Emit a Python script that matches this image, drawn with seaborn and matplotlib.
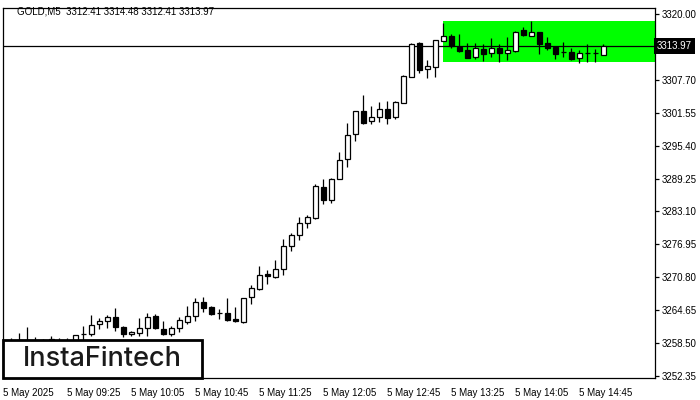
import matplotlib
matplotlib.use("Agg")
import matplotlib.pyplot as plt
import matplotlib.transforms as mtransforms
from matplotlib.patches import Rectangle
import pandas as pd
import seaborn as sns

# ── Data (GOLD M5, 5 May 2025) ───────────────────────────────────────────────
opens = [3258.50, 3258.60, 3259.03, 3259.03, 3258.90, 3258.84, 3259.21, 3258.84, 3258.80, 3258.84,
         3260.16, 3260.16, 3262.03, 3262.59, 3263.35, 3261.49, 3260.16, 3260.34, 3261.28, 3263.53,
         3261.09, 3260.16, 3261.28, 3262.41, 3263.53, 3266.16, 3265.22, 3264.10, 3264.10, 3262.97,
         3262.41, 3267.10, 3268.60, 3271.41, 3270.85, 3272.35, 3276.66, 3278.73, 3280.98, 3281.92,
         3287.73, 3285.29, 3289.23, 3292.99, 3297.49, 3301.80, 3299.93, 3300.68, 3302.18, 3300.68,
         3303.30, 3308.18, 3314.56, 3309.68, 3310.06, 3314.93, 3315.87, 3313.81, 3313.25, 3311.93,
         3313.43, 3312.68, 3313.62, 3312.68, 3313.06, 3317.00, 3315.87, 3316.62, 3314.56, 3313.81,
         3312.87, 3312.87, 3311.75, 3312.68, 3312.68, 3312.41]
highs = [3259.00, 3259.40, 3260.34, 3261.49, 3259.60, 3259.21, 3259.78, 3259.40, 3259.40, 3259.97,
         3261.65, 3263.72, 3263.16, 3263.72, 3265.03, 3261.65, 3260.72, 3263.16, 3264.10, 3263.91,
         3262.59, 3261.65, 3263.35, 3265.41, 3266.91, 3267.10, 3265.41, 3264.85, 3266.91, 3265.22,
         3266.95, 3269.35, 3272.91, 3272.16, 3274.04, 3277.98, 3279.10, 3282.10, 3282.48, 3288.30,
         3289.23, 3289.42, 3294.30, 3299.55, 3301.85, 3304.80, 3302.74, 3303.49, 3303.68, 3303.68,
         3308.56, 3314.56, 3314.75, 3311.37, 3315.15, 3318.31, 3316.25, 3316.25, 3314.56, 3314.56,
         3314.37, 3315.50, 3314.37, 3315.69, 3316.81, 3317.56, 3318.69, 3316.65, 3315.69, 3313.85,
         3314.75, 3313.62, 3313.25, 3314.37, 3313.43, 3314.48]
lows = [3257.60, 3257.80, 3257.90, 3257.80, 3258.00, 3258.30, 3258.20, 3258.30, 3258.20, 3258.50,
        3258.84, 3259.78, 3261.09, 3261.28, 3260.72, 3259.60, 3259.78, 3259.78, 3259.78, 3261.09,
        3260.00, 3259.78, 3260.53, 3262.03, 3262.59, 3264.28, 3263.72, 3262.97, 3262.70, 3262.41,
        3262.20, 3265.78, 3268.41, 3269.54, 3270.66, 3271.22, 3275.72, 3277.79, 3280.04, 3281.73,
        3284.54, 3284.73, 3289.20, 3291.49, 3296.36, 3299.36, 3299.36, 3299.74, 3299.36, 3300.30,
        3303.30, 3308.18, 3308.93, 3307.99, 3308.18, 3314.90, 3313.62, 3312.87, 3311.70, 3311.56,
        3311.18, 3311.93, 3311.00, 3311.37, 3312.87, 3315.87, 3315.85, 3312.50, 3313.25, 3311.56,
        3311.93, 3311.37, 3310.81, 3311.00, 3311.00, 3312.41]
closes = [3258.30, 3258.90, 3258.65, 3258.75, 3258.80, 3259.03, 3258.84, 3258.90, 3258.84, 3259.97,
          3260.20, 3261.84, 3262.59, 3263.35, 3261.49, 3260.16, 3260.53, 3261.28, 3263.35, 3261.28,
          3260.16, 3261.28, 3262.78, 3263.53, 3266.16, 3265.03, 3263.91, 3264.05, 3262.78, 3262.59,
          3266.91, 3268.79, 3271.22, 3271.04, 3272.35, 3276.66, 3278.73, 3280.98, 3282.10, 3287.92,
          3285.29, 3289.23, 3292.80, 3297.30, 3301.80, 3299.55, 3300.68, 3302.18, 3300.49, 3303.49,
          3308.37, 3314.37, 3309.49, 3310.24, 3315.12, 3315.87, 3314.00, 3313.06, 3311.75, 3313.62,
          3312.50, 3313.62, 3312.68, 3313.25, 3316.62, 3316.06, 3316.62, 3314.37, 3313.62, 3312.50,
          3312.85, 3311.56, 3312.68, 3312.70, 3312.66, 3313.97]

x_tick_pos = [0, 8, 16, 24, 32, 40, 48, 56, 64, 72]
x_tick_labels = ["5 May 2025", "5 May 09:25", "5 May 10:05", "5 May 10:45", "5 May 11:25",
                 "5 May 12:05", "5 May 12:45", "5 May 13:25", "5 May 14:05", "5 May 14:45"]
y_ticks = [3320.00, 3307.70, 3301.55, 3295.40, 3289.25, 3283.10,
           3276.95, 3270.80, 3264.65, 3258.50, 3252.35]

zone_start = 55
zone_top = 3318.69
zone_bottom = 3311.03
last_price = 3313.97
header = "GOLD,M5  3312.41 3314.48 3312.41 3313.97"

# ── Style ────────────────────────────────────────────────────────────────────
sns.set_theme(style="white")
plt.rcParams["font.family"] = ["Liberation Sans", "DejaVu Sans"]

df = pd.DataFrame({"open": opens, "high": highs, "low": lows, "close": closes})
df["idx"] = range(len(df))
df["bull"] = df["close"] >= df["open"]
df["body_low"] = df[["open", "close"]].min(axis=1)
df["body_h"] = (df["close"] - df["open"]).abs().clip(lower=0.06)

fig = plt.figure(figsize=(7, 4), dpi=100)
ax = fig.add_axes([3 / 700, 1 - 378 / 400, 652 / 700, 370 / 400])

x_max = 81.5
ax.set_xlim(-0.05, x_max)
ax.set_ylim(3251.98, 3321.12)

# green zone + current price line
ax.add_patch(Rectangle((zone_start, zone_bottom), x_max - zone_start, zone_top - zone_bottom,
                       facecolor="#00ff00", edgecolor="none", zorder=0))
ax.axhline(last_price, color="black", lw=0.9, zorder=1)

# candles
ax.vlines(df["idx"], df["low"], df["high"], color="black", lw=0.9, zorder=2)
ax.bar(df["idx"], df["body_h"], bottom=df["body_low"], width=0.62,
       color=["white" if b else "black" for b in df["bull"]],
       edgecolor="black", linewidth=0.9, zorder=3)

# axes
for s in ax.spines.values():
    s.set_color("black")
    s.set_linewidth(0.9)
ax.yaxis.tick_right()
ax.set_yticks(y_ticks)
ax.set_yticklabels([f"{v:.2f}" for v in y_ticks])
ax.set_xticks(x_tick_pos)
ax.set_xticklabels(x_tick_labels, ha="left")
ax.tick_params(axis="both", direction="out", length=3, width=0.9, colors="black",
               labelsize=7, pad=2)
ax.tick_params(axis="x", pad=4)
ax.grid(False)

# price tag on the right axis
trans = mtransforms.blended_transform_factory(ax.transAxes, ax.transData)
ax.text(1.003, last_price, f"{last_price:.2f}", transform=trans, ha="left", va="center",
        fontsize=7, color="white", zorder=6, clip_on=False,
        bbox=dict(facecolor="black", edgecolor="none", pad=2.0))

# header
fig.text(17 / 700, 1 - 11 / 400, header, fontsize=7, color="black", va="center")

# logo box
fig.add_artist(Rectangle((3 / 700, 1 - 378 / 400), 199 / 700, 38 / 400, transform=fig.transFigure,
                         facecolor="white", edgecolor="black", linewidth=2, zorder=5))
fig.text(102 / 700, 1 - 359 / 400, "InstaFintech", fontsize=19.5, color="#1a1a1a",
         family=["Inter", "DejaVu Sans"], fontweight="medium",
         ha="center", va="center", zorder=6)

fig.savefig("out.png", dpi=100)
